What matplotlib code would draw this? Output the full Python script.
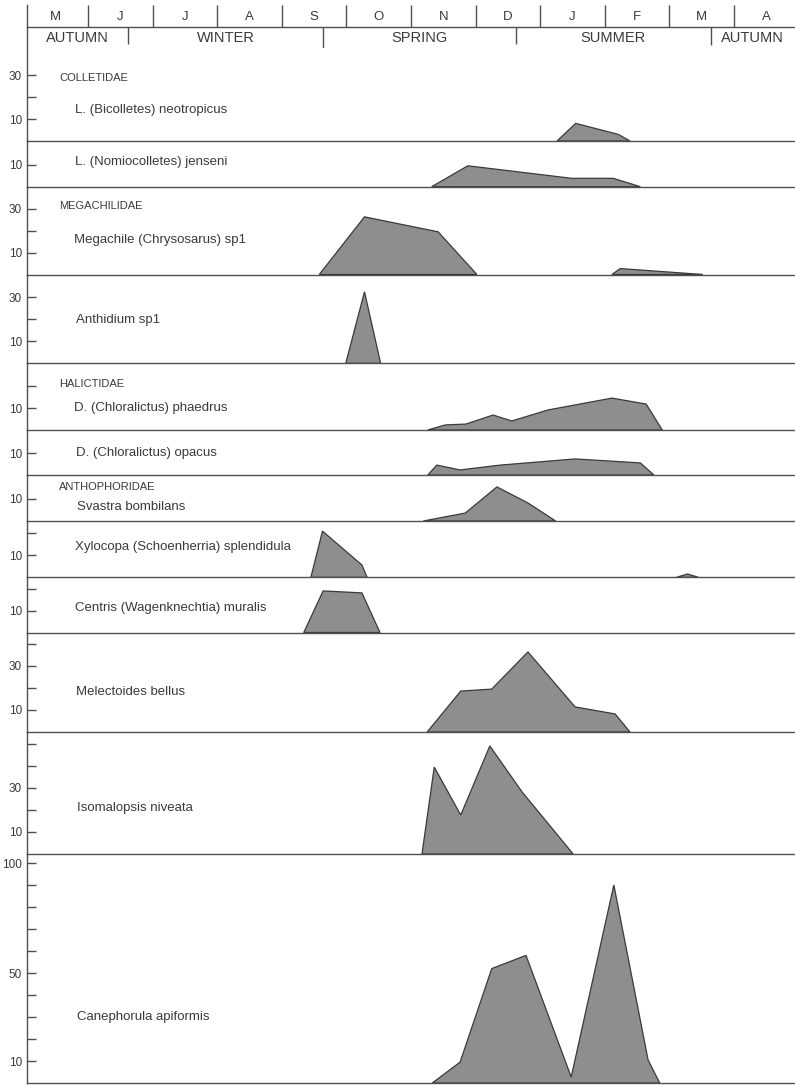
import matplotlib
matplotlib.use('Agg')
import matplotlib.pyplot as plt

plt.rcParams['font.family'] = ['Liberation Sans', 'DejaVu Sans']

W, H = 795, 1085
X0_PX, MONTH_PX = 23.4, 64.6   # pixel of 1 May, pixels per month
PX_PER_UNIT = 2.2              # vertical pixels per bee
AXIS_PX = 27                   # left axis line
TXT = '#3a3a3a'
LINE = '#505050'

MONTHS = ['M', 'J', 'J', 'A', 'S', 'O', 'N', 'D', 'J', 'F', 'M', 'A']
SEASONS = ['AUTUMN', 'WINTER', 'SPRING', 'SUMMER', 'AUTUMN']
SEASON_BOUNDS = [1.62, 4.64, 7.62, 10.64]   # months since 1 May

# x = months since 1 May, n = number of bees collected
neotropicus_x = [8.26, 8.55, 9.21, 9.39]
neotropicus_n = [0, 8.0, 3.0, 0]
jenseni_x = [6.32, 6.88, 8.49, 9.13, 9.55]
jenseni_n = [0, 9.5, 3.8, 3.8, 0]
megachile_x = [4.58, 5.28, 6.42, 7.02, 9.11, 9.24, 10.52]
megachile_n = [0, 26.2, 19.4, 0, 0, 2.7, 0]
anthidium_x = [4.99, 5.28, 5.53]
anthidium_n = [0, 32.5, 0]
phaedrus_x = [6.26, 6.53, 6.85, 7.27, 7.56, 8.12, 9.11, 9.64, 9.89]
phaedrus_n = [0, 2.3, 2.7, 6.8, 4.1, 9.1, 14.5, 11.8, 0]
opacus_x = [6.26, 6.40, 6.76, 7.38, 8.54, 9.55, 9.76]
opacus_n = [0, 4.5, 2.3, 4.5, 7.3, 5.5, 0]
svastra_x = [6.19, 6.84, 7.33, 7.81, 8.24]
svastra_n = [0, 3.6, 15.5, 8.2, 0]
xylocopa_x = [4.45, 4.63, 5.24, 5.32, 10.11, 10.28, 10.45]
xylocopa_n = [0, 21.0, 5.6, 0, 0, 1.5, 0]
centris_x = [4.34, 4.64, 5.24, 5.52]
centris_n = [0, 18.9, 18.0, 0]
melectoides_x = [6.25, 6.77, 7.25, 7.81, 8.54, 9.16, 9.39]
melectoides_n = [0, 18.6, 19.5, 36.4, 11.4, 8.2, 0]
isomalopsis_x = [6.17, 6.36, 6.77, 7.22, 7.72, 8.51]
isomalopsis_n = [0, 39.5, 17.7, 49.1, 28.2, 0]
canephorula_x = [6.33, 6.76, 7.25, 7.78, 8.48, 9.14, 9.67, 9.85]
canephorula_n = [0, 9.5, 52, 58, 2.7, 90, 10.5, 0]

SPECIES = [
    ('L. (Bicolletes) neotropicus', neotropicus_x, neotropicus_n),
    ('L. (Nomiocolletes) jenseni', jenseni_x, jenseni_n),
    ('Megachile (Chrysosarus) sp1', megachile_x, megachile_n),
    ('Anthidium sp1', anthidium_x, anthidium_n),
    ('D. (Chloralictus) phaedrus', phaedrus_x, phaedrus_n),
    ('D. (Chloralictus) opacus', opacus_x, opacus_n),
    ('Svastra bombilans', svastra_x, svastra_n),
    ('Xylocopa (Schoenherria) splendidula', xylocopa_x, xylocopa_n),
    ('Centris (Wagenknechtia) muralis', centris_x, centris_n),
    ('Melectoides bellus', melectoides_x, melectoides_n),
    ('Isomalopsis niveata', isomalopsis_x, isomalopsis_n),
    ('Canephorula apiformis', canephorula_x, canephorula_n),
]
FAMILIES = ['COLLETIDAE', None, 'MEGACHILIDAE', None, 'HALICTIDAE', None,
            'ANTHOPHORIDAE', None, None, None, None, None]

# layout: panel (top, baseline) in pixels, label rows, y ticks
PANELS = [(48, 141), (141, 186.7), (186.7, 274.5), (274.5, 363.3),
          (363.3, 430), (430, 475), (475, 521), (521, 577.3),
          (577.3, 632.5), (632.5, 732), (732, 854), (854, 1083)]
FAMILY_Y = [78, None, 206, None, 384, None, 487, None, None, None, None, None]
SPECIES_Y = [110, 161.7, 240, 320, 407.7, 452.7, 506.7, 547, 608, 691.7,
             807.7, 1017]
SPECIES_XPX = [75, 75, 74, 76, 74, 76, 77, 75, 75, 76, 77, 77]
TICKS = [([10, 30], [20]), ([10], []), ([10, 30], [20]), ([10, 30], [20]),
         ([10], [20]), ([10], []), ([10], []), ([10], [20]), ([10], [20]),
         ([10, 30], [20, 40]), ([10, 30], [20, 40, 50]),
         ([10, 50, 100], [20, 30, 40, 60, 70, 80, 90])]


def px2month(px):
    return (px - X0_PX) / MONTH_PX


def runs(xs, ns):
    # split a series into the separate humps (zero to zero)
    out, cur = [], []
    for x, n in zip(xs, ns):
        cur.append((x, n))
        if n == 0 and len(cur) > 1:
            out.append(cur)
            cur = []
        elif n == 0:
            cur = [(x, n)]
    return out


XMIN, XMAX = px2month(AXIS_PX), px2month(W)

fig = plt.figure(figsize=(W / 100, H / 100), dpi=100)

# header: months and seasons
hd = fig.add_axes([0, 1 - 48 / H, 1, 48 / H])
hd.set_xlim(px2month(0), px2month(W))
hd.set_ylim(48, 0)
hd.axis('off')
hd.plot([XMIN, XMIN], [5, 48], color=LINE, lw=1)
hd.plot([XMIN, XMAX], [27, 27], color=LINE, lw=1)
hd.vlines(range(1, 12), 5, 27, color=LINE, lw=1)
for i, m in enumerate(MONTHS):
    hd.text(i + 0.5, 16.5, m, ha='center', va='center', fontsize=9.5, color=TXT)
hd.vlines(SEASON_BOUNDS, 27, [44, 51, 44, 45], color=LINE, lw=1)
edges = [XMIN] + SEASON_BOUNDS + [XMAX]
for i, s in enumerate(SEASONS):
    hd.text((edges[i] + edges[i + 1]) / 2, 38.5, s, ha='center', va='center',
            fontsize=10.5, color=TXT)

for i, (name, xs, ns) in enumerate(SPECIES):
    top, base = PANELS[i]
    ax = fig.add_axes([AXIS_PX / W, 1 - base / H, (W - AXIS_PX) / W, (base - top) / H])
    ymax = (base - top) / PX_PER_UNIT
    ax.set_xlim(XMIN, XMAX)
    ax.set_ylim(0, ymax)
    ax.patch.set_alpha(0)
    for hump in runs(xs, ns):
        hx = [p[0] for p in hump]
        hn = [p[1] for p in hump]
        ax.fill(hx, hn, facecolor='#8e8e8e', edgecolor='#3a3a3a', lw=0.9)

    for side in ('top', 'right'):
        ax.spines[side].set_visible(False)
    for side in ('left', 'bottom'):
        ax.spines[side].set_color(LINE)
        ax.spines[side].set_linewidth(1)
    ax.set_xticks([])
    major, minor = TICKS[i]
    ax.set_yticks(major)
    ax.set_yticklabels([str(t) for t in major])
    ax.set_yticks(minor, minor=True)
    ax.tick_params(axis='y', which='both', direction='in', length=6.5,
                   width=1, color=LINE, pad=3.5, labelsize=8.5, labelcolor=TXT)

    lx = px2month(SPECIES_XPX[i])
    ax.text(lx, (base - SPECIES_Y[i]) / PX_PER_UNIT, name, ha='left', va='center',
            fontsize=9.5, color=TXT)
    if FAMILIES[i]:
        ax.text(px2month(59), (base - FAMILY_Y[i]) / PX_PER_UNIT, FAMILIES[i],
                ha='left', va='center', fontsize=8, color=TXT)

fig.savefig('out.png', dpi=100)
